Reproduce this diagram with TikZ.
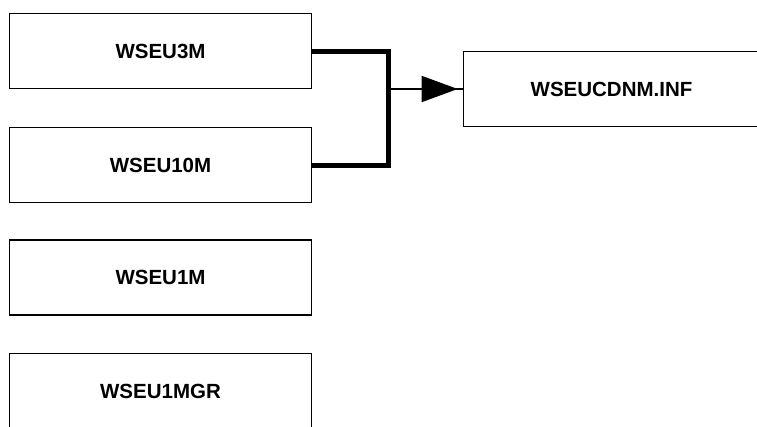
\documentclass[tikz,border=0pt]{standalone}
\usepackage{fontspec}
\setmainfont{Liberation Sans}
\usetikzlibrary{arrows.meta}
\tikzset{box/.style={draw=black, line width=1.6pt, rectangle, inner sep=0pt,
    minimum width=302pt, minimum height=75pt, font=\fontsize{20.5}{20.5}\selectfont\bfseries},
  feed/.style={line width=5pt, line join=miter},
  link/.style={line width=1.6pt}}

\begin{document}
\begin{tikzpicture}[x=1pt, y=-1pt]
  \useasboundingbox (0,0) rectangle (757,426);
  \clip (0,0) rectangle (757,426);
  % source files
  \node[box] (n3m)   at (160.5,51)    {WSEU3M};
  \node[box] (n10m)  at (160.5,165)   {WSEU10M};
  \node[box] (n1m)   at (160.5,277.5) {WSEU1M};
  \node[box] (n1mgr) at (160.5,391)   {WSEU1MGR};
  % target
  \node[box, minimum width=296pt] (ncdnm) at (611.5,89) {WSEUCDNM.INF};
  \coordinate (j) at (388,89);
  \draw[feed] (n3m.east) -| (j) |- (n10m.east);
  \draw[link] (j) -- (ncdnm.west);
  \draw[link, -{Triangle[length=36pt, width=26pt]}, shorten >=5pt] (j) -- (ncdnm.west);
\end{tikzpicture}
\end{document}
